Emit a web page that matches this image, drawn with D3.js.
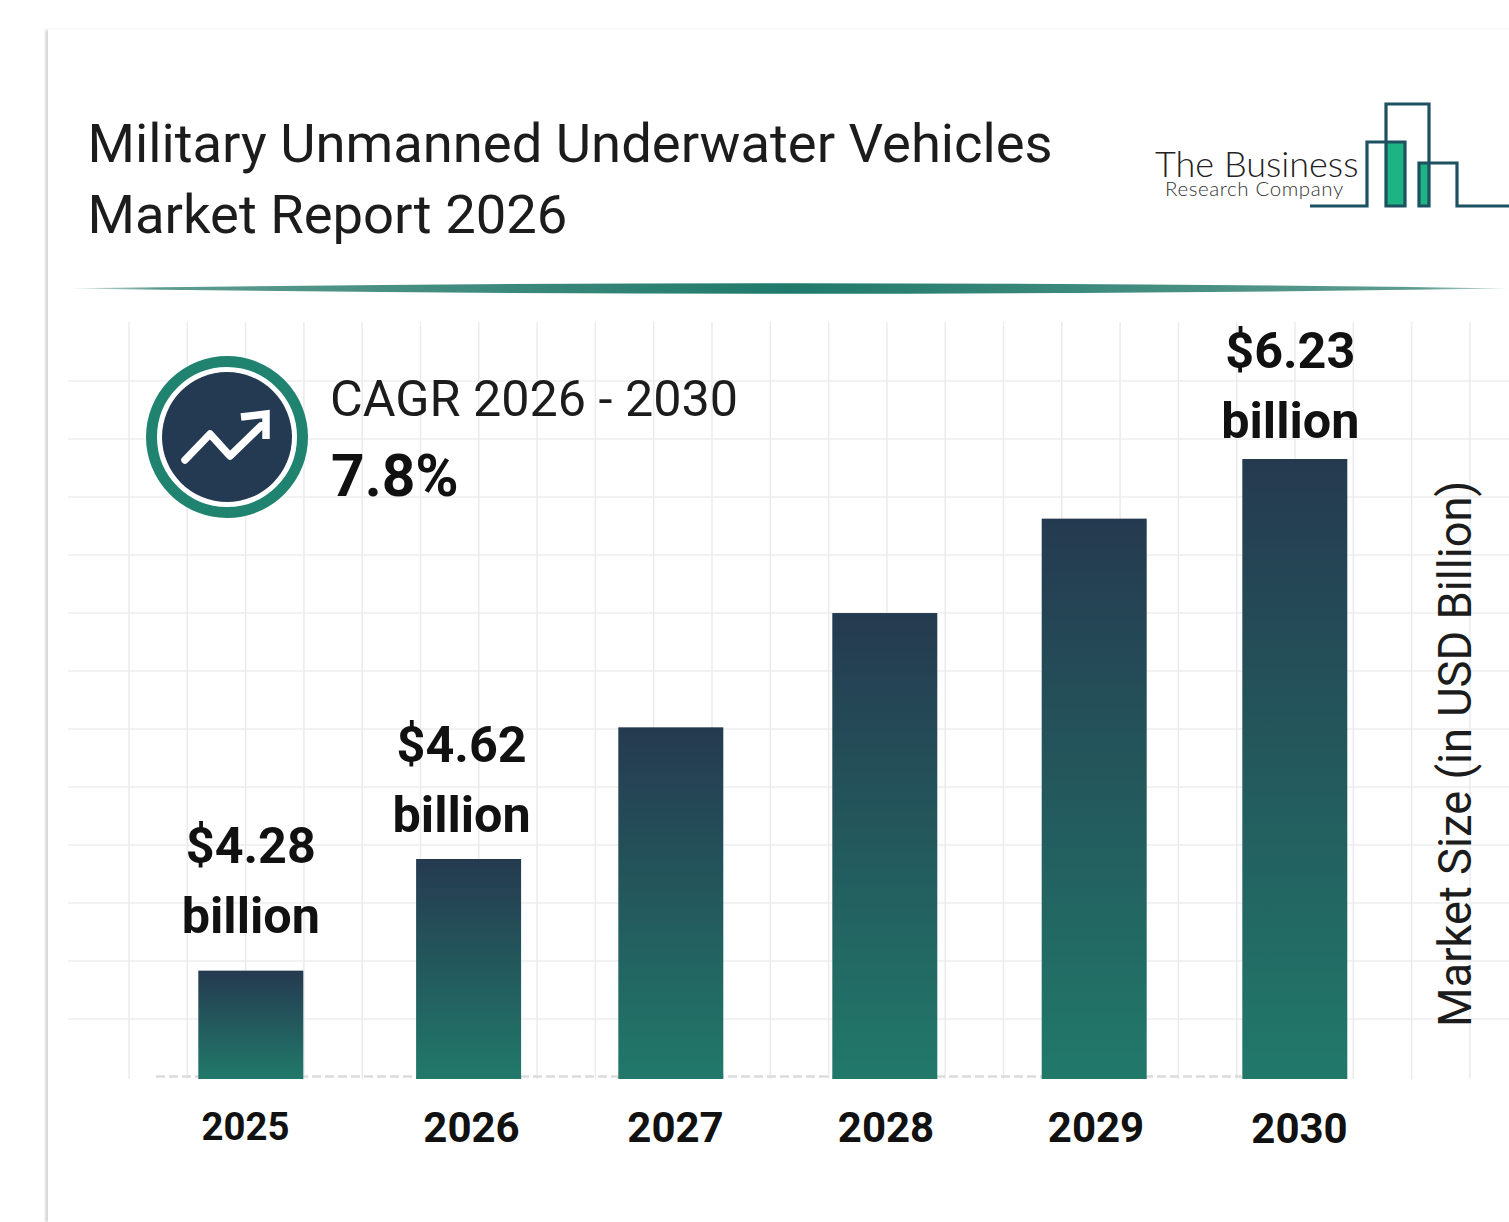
<!DOCTYPE html>
<html>
<head>
<meta charset="utf-8">
<script src="https://cdn.jsdelivr.net/npm/d3@7/dist/d3.min.js"></script>
<style>
  html, body { margin: 0; padding: 0; background: #fff; overflow: hidden; }
  svg { display: block; font-family: Roboto, sans-serif; }
</style>
</head>
<body>
<svg id="chart" width="1509" height="1222"></svg>
<script>
// Market size by year, USD billion
const years = ["2025", "2026", "2027", "2028", "2029", "2030"];
const marketSize = [4.28, 4.62, 5.15, 5.61, 5.99, 6.23];
const labelledYears = ["2025", "2026", "2030"];
const titleLines = ["Military Unmanned Underwater Vehicles", "Market Report 2026"];
const cagrPeriod = "CAGR 2026 - 2030";
const cagrValue = "7.8%";
const yAxisTitle = "Market Size (in USD Billion)";
const logoLines = ["The Business", "Research Company"];

// Layout
const barWidth = 105;
const barCentres = [250.8, 468.6, 670.8, 884.8, 1094.2, 1294.8];
const tickCentres = [245, 471, 675, 885.5, 1095.5, 1299];
const tickSizes = [38.3, 42, 42, 42, 42, 42];
const tickBaselines = [1140, 1142, 1142, 1142, 1142, 1143];
const labelNudges = { "2025": [0, -38], "2026": [-7, -27], "2030": [-4.5, -21] };

const svg = d3.select("#chart");
const x = d3.scaleOrdinal(years, barCentres);
const xTick = d3.scaleOrdinal(years, tickCentres);
// The bar heights follow a stretched axis, steeper below the 2026 value
const y = d3.scaleLinear().domain([3.95, 4.62, 6.23]).range([1079, 859, 459]);

const defs = svg.append("defs");
const barGrad = defs.append("linearGradient").attr("id", "barFill")
  .attr("x1", 0).attr("y1", 0).attr("x2", 0).attr("y2", 1);
barGrad.append("stop").attr("offset", 0).attr("stop-color", "#253a50");
barGrad.append("stop").attr("offset", 1).attr("stop-color", "#21796a");

const ruleGrad = defs.append("linearGradient").attr("id", "ruleFill");
[[0, "#dfe9e7"], [0.06, "#5f9c90"], [0.5, "#1f7a6b"], [0.94, "#5f9c90"], [1, "#cfe0dc"]]
  .forEach(([o, c]) => ruleGrad.append("stop").attr("offset", o).attr("stop-color", c));

const blur = defs.append("filter").attr("id", "edgeShadow")
  .attr("x", "-50%").attr("width", "200%");
blur.append("feGaussianBlur").attr("stdDeviation", 1.6);

// Card edge
svg.append("rect").attr("x", 46).attr("y", 30).attr("width", 2.5).attr("height", 1192)
  .attr("fill", "#bdbdbd").attr("filter", "url(#edgeShadow)");
svg.append("rect").attr("x", 47).attr("y", 28.5).attr("width", 1462).attr("height", 1).attr("fill", "#f1f1f1");
svg.append("rect").attr("x", 48).attr("y", 29.5).attr("width", 1461).attr("height", 1193).attr("fill", "#fff");

// Background grid
const grid = svg.append("g");
grid.selectAll("line.h").data(d3.range(0, 12)).join("line").attr("class", "h")
  .attr("x1", 68).attr("x2", 1509)
  .attr("y1", i => 381 + i * 58).attr("y2", i => 381 + i * 58)
  .attr("stroke", "#eeeeee").attr("stroke-width", 1.5);
grid.selectAll("line.v").data(d3.range(0, 24)).join("line").attr("class", "v")
  .attr("x1", i => 129 + i * 58.3).attr("x2", i => 129 + i * 58.3)
  .attr("y1", 322).attr("y2", 1079)
  .attr("stroke", "#e9ebee").attr("stroke-width", 1.5);

// Dashed floor behind the bars
svg.append("line").attr("x1", 156).attr("x2", 1242).attr("y1", 1076.5).attr("y2", 1076.5)
  .attr("stroke", "#dcdcdc").attr("stroke-width", 2.5).attr("stroke-dasharray", "9 4");

// Title
svg.append("g").selectAll("text").data(titleLines).join("text")
  .attr("x", 87.5).attr("y", (d, i) => 162 + i * 71)
  .attr("font-size", 54.4).attr("fill", "#1c1c1c").text(d => d);

// Tapered rule under the title
svg.append("path")
  .attr("d", "M68,288.5 Q800,278 1509,288.5 Q800,299 68,288.5 Z")
  .attr("fill", "url(#ruleFill)");

// Logo
const logo = svg.append("g");
logo.append("rect").attr("x", 1386).attr("y", 142).attr("width", 19).attr("height", 64).attr("fill", "#1db382");
logo.append("rect").attr("x", 1419).attr("y", 163).attr("width", 10).attr("height", 43).attr("fill", "#1db382");
logo.append("path")
  .attr("d", d3.line()([[1310,206],[1367,206],[1367,142],[1405,142],[1405,206],[1386,206],[1386,104],[1429,104],[1429,206],[1419,206],[1419,163],[1457,163],[1457,206],[1509,206]]))
  .attr("fill", "none").attr("stroke", "#1d5060").attr("stroke-width", 3.2);
logo.append("text").attr("x", 1155).attr("y", 177)
  .attr("font-family", "Lato").attr("font-weight", 300).attr("font-size", 36).attr("fill", "#222").text(logoLines[0]);
logo.append("text").attr("x", 1165).attr("y", 196)
  .attr("font-family", "Lato").attr("font-weight", 300).attr("font-size", 20.5).attr("letter-spacing", 0.6).attr("fill", "#333").text(logoLines[1]);

// Bars
svg.append("g").selectAll("rect").data(marketSize).join("rect")
  .attr("x", (d, i) => x(years[i]) - barWidth / 2)
  .attr("y", d => y(d))
  .attr("width", barWidth)
  .attr("height", d => y.range()[0] - y(d))
  .attr("fill", "url(#barFill)");

// Value labels above the stated bars
const labels = svg.append("g").attr("font-weight", 700).attr("font-size", 50.3).attr("fill", "#111").attr("text-anchor", "middle");
labelledYears.forEach(yr => {
  const v = marketSize[years.indexOf(yr)];
  const [dx, dy] = labelNudges[yr];
  labels.append("text").attr("x", x(yr) + dx).attr("y", y(v) + dy - 70).text(`$${v.toFixed(2)}`);
  labels.append("text").attr("x", x(yr) + dx).attr("y", y(v) + dy).text("billion");
});

// Year axis
const axis = svg.append("g").call(d3.axisBottom(xTick).tickSize(0).tickPadding(0));
axis.select(".domain").remove();
axis.selectAll(".tick text")
  .attr("font-family", "Roboto").attr("font-weight", 700).attr("fill", "#111")
  .attr("dy", 0)
  .attr("y", (d, i) => tickBaselines[i])
  .attr("font-size", (d, i) => tickSizes[i]);

// Vertical axis title
svg.append("text").attr("transform", "translate(1471,1027) rotate(-90)")
  .attr("font-size", 45.3).attr("fill", "#1c1c1c").text(yAxisTitle);

// CAGR badge
const badge = svg.append("g").attr("transform", "translate(227,437)");
badge.append("circle").attr("r", 75.5).attr("fill", "#fff").attr("stroke", "#1f8370").attr("stroke-width", 11);
badge.append("circle").attr("r", 65).attr("fill", "#233a52");
badge.append("path").attr("d", "M-42,23 L-17,-3 L3,19 L34,-11")
  .attr("fill", "none").attr("stroke", "#fff").attr("stroke-width", 7.5).attr("stroke-linecap", "round").attr("stroke-linejoin", "round");
badge.append("path").attr("d", "M14,-20 L39,-23 L39,2")
  .attr("fill", "none").attr("stroke", "#fff").attr("stroke-width", 7.5).attr("stroke-linejoin", "miter");

svg.append("text").attr("x", 330).attr("y", 416).attr("font-size", 50.3).attr("fill", "#1c1c1c").text(cagrPeriod);
svg.append("text").attr("x", 331).attr("y", 496).attr("font-size", 58.7).attr("font-weight", 700).attr("fill", "#111").text(cagrValue);
</script>
</body>
</html>
